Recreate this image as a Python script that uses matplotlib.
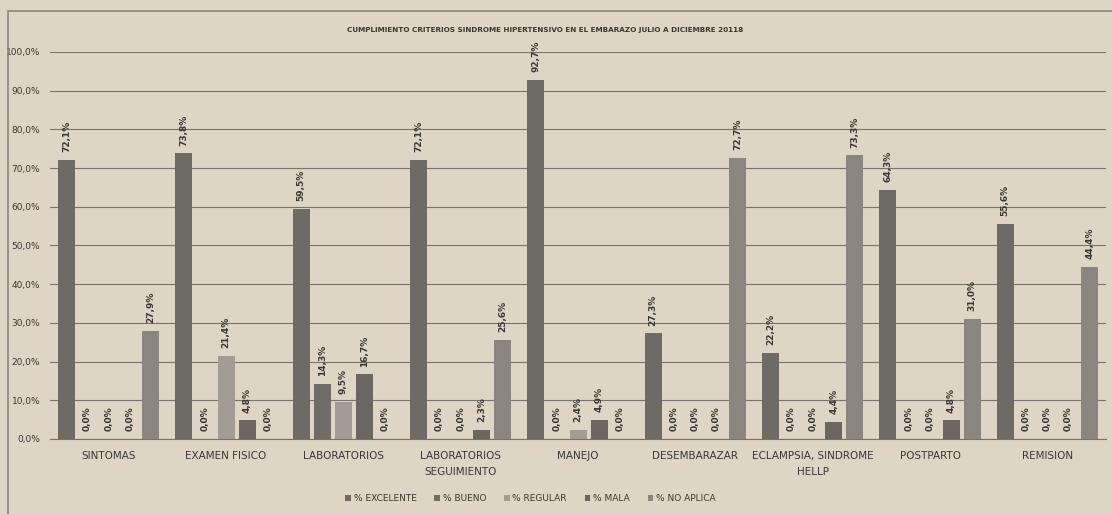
import numpy as np
import matplotlib.pyplot as plt
from matplotlib.patches import Rectangle

plt.rcParams['font.family'] = ['Liberation Sans Narrow', 'DejaVu Sans']

categorias = ["SINTOMAS", "EXAMEN FISICO", "LABORATORIOS", "LABORATORIOS\nSEGUIMIENTO",
              "MANEJO", "DESEMBARAZAR", "ECLAMPSIA, SINDROME\nHELLP", "POSTPARTO", "REMISION"]
series = ["% EXCELENTE", "% BUENO", "% REGULAR", "% MALA", "% NO APLICA"]
excelente = [72.1, 73.8, 59.5, 72.1, 92.7, 27.3, 22.2, 64.3, 55.6]
bueno = [0.0, 0.0, 14.3, 0.0, 0.0, 0.0, 0.0, 0.0, 0.0]
regular = [0.0, 21.4, 9.5, 0.0, 2.4, 0.0, 0.0, 0.0, 0.0]
mala = [0.0, 4.8, 16.7, 2.3, 4.9, 0.0, 4.4, 4.8, 0.0]
no_aplica = [27.9, 0.0, 0.0, 25.6, 0.0, 72.7, 73.3, 31.0, 44.4]
colores = ["#6e6a66", "#716c67", "#a39c94", "#6b6661", "#8b857f"]

fondo = "#ded5c4"
fig = plt.figure(figsize=(11.12, 5.14), dpi=100, facecolor=fondo)
ax = fig.add_axes([0.045, 0.146, 0.9496, 0.753])
ax.set_facecolor(fondo)

x = np.arange(len(categorias))
ancho = 0.145
paso = 0.18
datos = [excelente, bueno, regular, mala, no_aplica]
for i, (nombre, vals) in enumerate(zip(series, datos)):
    pos = x + (i - 2) * paso
    barras = ax.bar(pos, np.array(vals) / 100, ancho, color=colores[i], label=nombre, zorder=3)
    for b, v in zip(barras, vals):
        ax.text(b.get_x() + b.get_width() / 2, b.get_height() + 0.02,
                ("%.1f%%" % v).replace(".", ","), rotation=90, ha="center", va="bottom",
                fontsize=6.5, color="#3a3633", fontweight="bold", zorder=4)

ax.set_xlim(-0.5, len(categorias) - 0.5)
ax.set_ylim(0, 1.0)
ax.set_yticks(np.arange(0, 1.01, 0.1))
ax.set_yticklabels([("%.1f%%" % (t * 100)).replace(".", ",") for t in np.arange(0, 1.01, 0.1)],
                   fontsize=6.5, color="#3a3633")
ax.set_xticks(x)
ax.set_xticklabels(categorias, fontsize=7.5, color="#3a3633", linespacing=1.7)
ax.tick_params(length=0, pad=9)
ax.tick_params(axis="y", pad=7)
ax.grid(axis="y", color="#77726d", linewidth=0.8, zorder=0)
for s in ["top", "right", "left"]:
    ax.spines[s].set_visible(False)
ax.spines["bottom"].set_color("#77726d")

fig.text(0.49, 0.942, "CUMPLIMIENTO CRITERIOS SINDROME HIPERTENSIVO EN EL EMBARAZO JULIO A DICIEMBRE 20118",
         ha="center", va="center", fontsize=5.2, fontweight="bold", color="#3a3633")

leg = fig.legend(loc="center", bbox_to_anchor=(0.477, 0.03), ncol=5, frameon=False,
                 fontsize=6.5, handlelength=0.6, handleheight=0.6, handletextpad=0.3,
                 columnspacing=2.0)
for t in leg.get_texts():
    t.set_color("#3a3633")

fig.patches.append(Rectangle((0.007, -0.01), 0.995, 0.988, transform=fig.transFigure,
                             fill=False, edgecolor="#8a8580", linewidth=1.2))

fig.savefig("out.png", dpi=100, facecolor=fondo)
